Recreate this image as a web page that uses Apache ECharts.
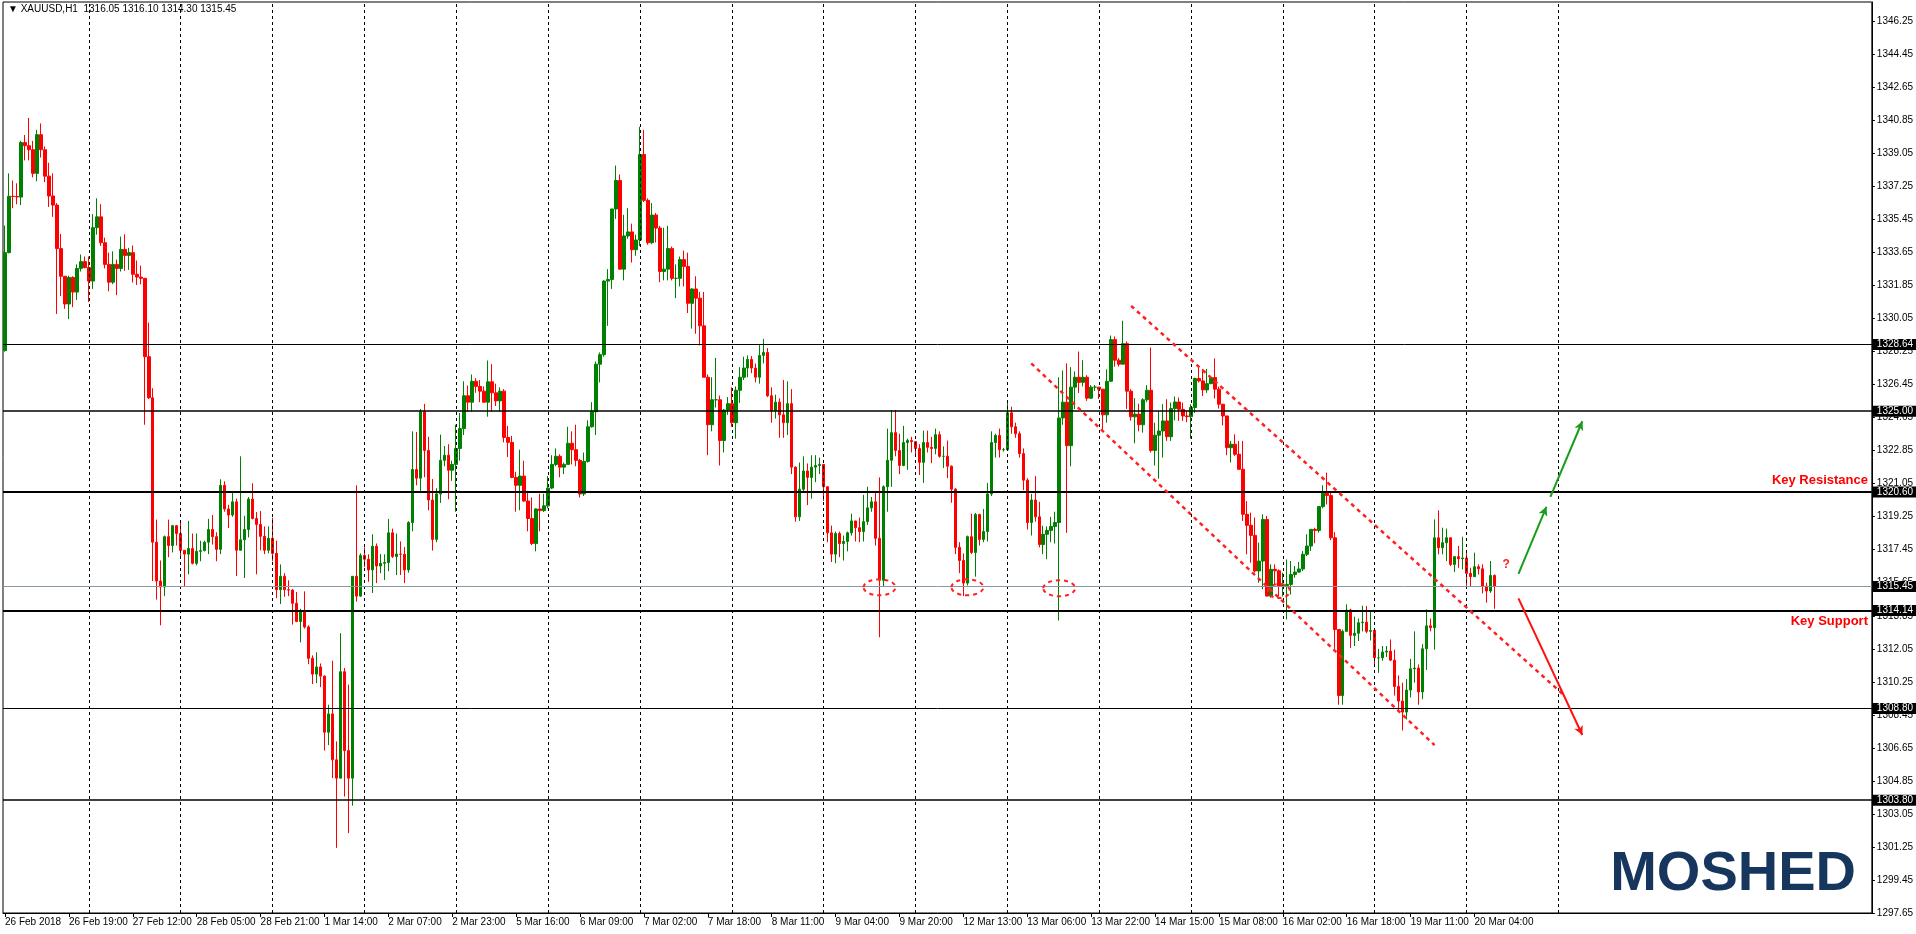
<!DOCTYPE html>
<html><head><meta charset="utf-8">
<script src="https://cdn.jsdelivr.net/npm/echarts@6/dist/echarts.min.js"></script>
<style>html,body{margin:0;padding:0;background:#fff}#c{width:1916px;height:934px}</style>
</head><body><div id="c"></div>
<script>
const firstOpen = 1328.30;
const closes = [
1333.64,1336.71,1336.7,1336.67,1339.64,1339.47,1339.25,1337.96,1340.07,1339.25,
1337.81,1336.73,1336.23,1333.86,1332.35,1330.84,1332.29,1331.49,1332.78,1333.15,
1332.83,1332.09,1335.0,1335.59,1334.18,1333.0,1332.03,1333.0,1332.78,1333.82,
1333.49,1333.64,1332.46,1332.31,1332.24,1327.97,1325.73,1317.86,1315.74,1315.42,
1318.16,1317.68,1318.76,1318.33,1317.42,1317.21,1317.51,1316.71,1317.36,1317.40,
1317.86,1318.55,1318.16,1317.47,1320.96,1319.67,1319.34,1320.06,1317.42,1317.99,
1318.55,1320.21,1319.15,1318.83,1318.18,1317.42,1318.07,1317.25,1315.27,1316.0,
1315.27,1315.25,1314.53,1313.54,1314.12,1313.24,1311.53,1310.67,1311.06,1310.56,
1307.5,1308.5,1306.0,1305.0,1310.8,1306.5,1305.0,1316.0,1314.92,1317.14,
1316.93,1316.35,1317.64,1316.56,1316.71,1316.75,1318.37,1317.08,1317.21,1317.2,
1316.35,1318.93,1321.82,1321.35,1324.97,1322.86,1320.16,1318.01,1320.49,1322.32,
1322.6,1321.78,1322.1,1322.97,1324.05,1325.84,1325.49,1326.63,1326.35,1326.09,
1325.49,1326.6,1326.0,1325.56,1326.09,1323.57,1323.3,1321.39,1320.96,1321.46,
1320.1,1319.15,1317.79,1319.67,1319.58,1319.84,1320.81,1322.1,1322.54,1321.95,
1322.1,1323.25,1322.9,1322.32,1320.49,1322.26,1324.15,1324.97,1327.56,1328.08,
1332.09,1332.18,1336.02,1337.57,1332.74,1334.55,1334.77,1333.8,1334.33,1338.99,
1336.49,1334.18,1335.69,1334.98,1332.61,1332.74,1333.86,1332.24,1332.24,1333.26,
1332.89,1330.88,1331.66,1331.16,1329.65,1326.85,1324.26,1325.62,1325.62,1323.4,
1325.06,1325.41,1324.37,1326.14,1326.85,1327.35,1327.82,1327.35,1326.85,1328.04,
1328.2,1325.84,1325.02,1325.49,1324.8,1324.37,1325.41,1321.95,1319.24,1320.75,
1321.74,1321.39,1321.95,1322.04,1322.1,1320.88,1318.37,1317.21,1318.33,1317.79,
1317.9,1318.37,1319.02,1318.65,1318.44,1318.98,1319.73,1320.06,1318.07,1315.78,
1320.88,1322.32,1323.83,1322.86,1322.04,1323.29,1323.4,1323.34,1322.97,1322.21,
1323.29,1323.03,1322.97,1323.72,1322.54,1322.54,1322.0,1320.75,1317.58,1316.86,
1315.63,1318.16,1317.3,1319.37,1318.01,1318.44,1320.49,1323.29,1323.68,1322.9,
1322.9,1324.91,1324.15,1323.77,1322.69,1321.24,1318.93,1320.16,1319.24,1317.73,
1318.29,1318.5,1318.72,1318.93,1324.63,1325.49,1323.12,1326.31,1326.85,1326.57,
1326.85,1325.71,1326.31,1326.31,1326.2,1324.8,1326.63,1328.9,1327.78,1327.56,
1328.68,1326.09,1324.69,1324.84,1324.26,1325.62,1326.14,1322.86,1323.69,1323.92,
1324.47,1323.61,1325.14,1325.5,1325.1,1324.74,1324.7,1325.2,1326.78,1326.65,
1326.16,1326.5,1326.83,1326.2,1325.38,1324.74,1323.01,1323.2,1322.65,1321.83,
1319.38,1318.78,1318.23,1316.29,1316.83,1319.1,1314.92,1316.38,1316.3,1315.47,
1315.5,1315.56,1316.1,1316.23,1316.4,1317.2,1317.65,1318.56,1318.5,1319.8,
1320.52,1320.4,1318.1,1313.1,1309.5,1313.0,1314.16,1312.78,1312.9,1313.47,
1313.5,1313.0,1313.05,1311.56,1311.56,1311.87,1311.92,1311.43,1310.0,1309.2,
1308.6,1309.8,1310.96,1311.0,1309.7,1312.05,1313.3,1313.2,1318.1,1317.56,
1317.83,1318.1,1316.65,1317.07,1316.96,1317.0,1316.16,1315.98,1316.52,1316.41,
1315.47,1315.2,1316.05,1315.45];
const highs = [
1335.11,1337.96,1337.57,1337.42,1339.73,1340.05,1340.98,1339.73,1340.33,1340.68,
1339.43,1338.54,1337.96,1336.34,1334.66,1332.35,1332.39,1332.35,1333.0,1333.54,
1333.43,1333.43,1335.74,1336.6,1336.28,1334.46,1333.64,1333.71,1333.26,1334.51,
1334.64,1333.9,1334.03,1333.21,1332.93,1332.24,1329.83,1326.25,1319.09,1316.86,
1318.22,1319.09,1318.8,1318.8,1318.93,1317.42,1319.02,1318.33,1318.33,1317.94,
1317.94,1319.13,1319.34,1318.4,1321.29,1321.18,1319.9,1320.6,1320.23,1322.54,
1319.3,1320.32,1321.07,1319.5,1319.56,1318.72,1318.72,1319.19,1317.94,1316.65,
1316.17,1315.78,1315.3,1315.14,1314.23,1315.18,1313.33,1311.69,1311.86,1311.25,
1310.6,1309.0,1311.4,1307.0,1312.9,1311.0,1310.1,1316.0,1320.96,1317.25,
1317.58,1317.2,1318.29,1317.79,1317.21,1317.2,1319.13,1318.6,1318.33,1317.9,
1317.6,1319.0,1323.9,1323.87,1325.12,1325.4,1323.6,1321.3,1320.8,1323.72,
1323.1,1323.2,1322.3,1324.26,1324.9,1326.63,1326.4,1327.0,1326.8,1326.7,
1326.35,1327.76,1327.56,1326.5,1326.3,1326.2,1324.2,1323.65,1321.7,1322.9,
1322.3,1320.66,1320.3,1319.7,1320.5,1320.5,1321.46,1322.6,1322.97,1322.65,
1322.2,1324.15,1323.9,1324.26,1322.4,1322.75,1324.5,1325.49,1327.7,1328.2,
1332.14,1332.74,1336.02,1338.39,1337.9,1335.7,1336.06,1335.22,1334.62,1340.5,
1340.33,1336.6,1336.34,1335.8,1335.1,1335.0,1335.1,1333.97,1333.0,1333.43,
1333.75,1333.64,1331.7,1332.35,1331.5,1331.5,1327.0,1326.85,1327.9,1325.85,
1325.12,1325.77,1326.3,1326.35,1327.4,1327.97,1328.04,1328.0,1327.6,1328.6,
1328.94,1328.44,1326.3,1325.9,1325.7,1326.7,1326.63,1326.2,1322.0,1322.2,
1322.54,1322.15,1322.6,1322.6,1322.47,1322.0,1320.9,1318.76,1318.44,1318.44,
1318.22,1318.44,1319.41,1318.93,1319.2,1320.44,1320.88,1320.32,1320.6,1321.39,
1320.96,1324.05,1325.06,1325.06,1323.77,1324.2,1323.5,1323.6,1323.29,1323.2,
1323.94,1323.94,1323.6,1324.05,1323.9,1323.08,1323.4,1322.04,1320.8,1317.86,
1317.25,1318.22,1319.41,1319.45,1319.41,1319.67,1321.09,1323.9,1323.77,1324.05,
1323.0,1325.56,1325.24,1324.37,1323.9,1322.97,1321.35,1320.49,1321.46,1320.06,
1318.76,1318.72,1319.24,1319.52,1326.85,1327.22,1327.6,1327.4,1327.17,1328.25,
1327.78,1326.96,1326.42,1326.42,1326.3,1326.2,1327.28,1329.12,1329.07,1327.9,
1329.93,1328.8,1326.2,1325.71,1325.41,1325.71,1326.42,1328.47,1324.37,1325.0,
1325.38,1325.65,1325.47,1325.8,1325.74,1325.47,1325.0,1325.38,1326.83,1327.47,
1327.3,1327.3,1326.92,1327.87,1326.34,1325.38,1324.74,1323.38,1323.74,1323.38,
1323.38,1320.1,1319.47,1319.2,1317.83,1319.38,1319.29,1316.65,1316.65,1316.38,
1316.2,1316.92,1316.83,1316.56,1316.78,1317.38,1318.29,1318.56,1318.65,1319.83,
1320.96,1321.65,1320.6,1318.41,1313.1,1313.1,1314.47,1314.23,1313.8,1313.7,
1314.4,1314.38,1314.1,1313.1,1312.05,1312.2,1312.2,1312.56,1312.0,1310.6,
1310.2,1310.4,1311.5,1313.0,1311.2,1312.3,1314.2,1313.7,1319.1,1319.6,
1318.65,1318.6,1318.1,1317.1,1317.65,1318.16,1317.38,1316.47,1317.29,1316.65,
1316.65,1315.65,1316.83,1316.1];
const lows = [
1328.25,1333.6,1336.06,1336.28,1336.23,1338.67,1338.67,1337.74,1337.53,1338.82,
1337.48,1336.13,1335.59,1330.30,1331.27,1330.58,1330.02,1330.67,1331.06,1332.61,
1332.78,1330.95,1331.66,1334.62,1334.01,1332.78,1331.53,1331.92,1331.32,1332.61,
1332.65,1332.7,1332.01,1331.88,1331.92,1324.26,1325.66,1315.74,1314.73,1313.33,
1314.92,1317.04,1317.3,1317.68,1317.04,1315.42,1316.11,1316.65,1316.6,1316.82,
1317.36,1317.21,1317.73,1316.82,1317.21,1319.52,1318.63,1319.24,1316.02,1317.42,
1315.91,1318.12,1319.1,1316.11,1317.42,1317.21,1317.25,1316.82,1314.81,1314.49,
1314.88,1314.92,1313.37,1313.5,1312.4,1313.15,1311.21,1310.13,1310.18,1309.96,
1306.5,1306.8,1305.0,1301.2,1305.0,1304.0,1302.0,1303.5,1314.62,1314.88,
1316.5,1315.7,1315.09,1315.63,1316.17,1315.8,1316.28,1317.0,1316.07,1316.07,
1315.63,1316.2,1318.45,1320.96,1320.6,1321.4,1319.6,1317.4,1317.86,1320.0,
1322.0,1320.2,1321.2,1319.52,1322.3,1323.7,1324.97,1324.97,1326.0,1325.49,
1325.45,1324.7,1324.97,1325.28,1324.97,1323.3,1322.5,1321.35,1319.52,1319.6,
1320.06,1318.45,1317.7,1317.36,1318.45,1319.5,1319.7,1320.75,1322.0,1321.4,
1321.57,1322.1,1322.1,1322.0,1320.3,1320.38,1322.2,1324.1,1323.7,1326.57,
1327.97,1329.65,1331.66,1335.48,1332.74,1332.13,1334.4,1333.1,1333.47,1334.0,
1336.4,1334.07,1334.1,1334.2,1332.03,1332.13,1332.13,1332.13,1331.16,1331.8,
1331.8,1330.35,1329.5,1329.22,1328.58,1326.85,1322.6,1323.9,1325.2,1322.04,
1322.75,1324.8,1324.15,1323.5,1325.45,1326.7,1326.85,1327.07,1326.57,1326.5,
1327.6,1325.77,1324.37,1324.6,1323.55,1323.55,1323.7,1321.57,1318.98,1319.02,
1320.6,1319.88,1320.23,1321.13,1321.57,1320.1,1317.86,1316.78,1316.71,1317.04,
1316.86,1317.36,1318.22,1317.9,1317.86,1317.9,1318.8,1319.52,1317.68,1312.68,
1315.42,1319.52,1320.88,1322.54,1321.57,1322.0,1321.8,1322.75,1322.54,1321.52,
1321.09,1322.75,1322.17,1322.65,1322.47,1321.9,1321.35,1320.01,1317.21,1316.17,
1314.92,1315.5,1317.21,1315.98,1317.68,1317.86,1317.9,1320.38,1322.47,1322.47,
1322.8,1323.4,1323.77,1323.55,1322.47,1320.7,1318.55,1318.22,1318.98,1317.58,
1317.21,1316.93,1317.86,1317.79,1313.59,1324.26,1318.37,1322.0,1325.12,1325.99,
1326.35,1325.56,1325.66,1326.1,1325.66,1323.94,1324.37,1326.6,1327.43,1327.43,
1327.56,1325.12,1324.48,1323.25,1323.9,1323.83,1325.49,1322.75,1322.04,1321.32,
1322.47,1323.38,1323.38,1324.5,1324.47,1324.47,1324.4,1323.5,1324.9,1326.56,
1325.83,1326.0,1326.47,1325.69,1325.14,1324.23,1322.6,1322.2,1322.56,1321.83,
1319.02,1317.2,1316.74,1316.2,1315.65,1315.29,1314.92,1314.83,1315.5,1314.92,
1314.9,1313.65,1315.0,1315.92,1316.2,1316.29,1317.1,1317.38,1317.8,1318.38,
1319.7,1319.92,1317.97,1312.0,1309.0,1309.0,1313.0,1312.1,1312.2,1312.47,
1313.0,1312.9,1312.5,1311.2,1310.74,1311.4,1311.6,1311.38,1309.5,1308.6,
1307.6,1308.2,1309.4,1310.2,1309.0,1309.3,1310.9,1313.0,1312.0,1317.2,
1317.2,1316.83,1316.56,1316.23,1316.47,1316.38,1315.47,1315.47,1315.98,1316.1,
1315.07,1314.56,1315.1,1314.23];
const tickLabels = ["26 Feb 2018","26 Feb 19:00","27 Feb 12:00","28 Feb 05:00","28 Feb 21:00","1 Mar 14:00","2 Mar 07:00","2 Mar 23:00","5 Mar 16:00","6 Mar 09:00","7 Mar 02:00","7 Mar 18:00","8 Mar 11:00","9 Mar 04:00","9 Mar 20:00","12 Mar 13:00","13 Mar 06:00","13 Mar 22:00","14 Mar 15:00","15 Mar 08:00","16 Mar 02:00","16 Mar 18:00","19 Mar 11:00","20 Mar 04:00"];
const levels = [1328.64, 1325.00, 1320.60, 1314.14, 1308.80, 1303.80];
const levelWidths = [1, 1.5, 2, 2, 1, 1.5];
const bidLevel = 1315.45;
const channelUpper = [[281.7, 1330.74], [390, 1309.6]];
const channelLower = [[257.2, 1327.6], [358, 1306.8]];
const greenArrow1 = [[378.6, 1316.13], [385.8, 1319.79]];
const greenArrow2 = [[387, 1320.33], [395.3, 1324.45]];
const redArrow = [[378.6, 1314.80], [394.5, 1307.35]];
const ellipses = [[219.2, 1315.4, 16, 8], [240.8, 1315.4, 16, 8], [263.6, 1315.35, 16, 8], [318.8, 1315.2, 11, 7]];
const SLOTS = 468, LABEL_STEP = 16, GRID_START = 21, GRID_STEP = 23, GRID_END = 392;

const cats = Array.from({length: SLOTS}, (_, i) => i);
const ohlc = closes.map((c, i) => {
  const o = i === 0 ? firstOpen : closes[i - 1];
  return [o, c, Math.min(lows[i], o, c), Math.max(highs[i], o, c)];
});
const vLines = [];
for (let i = GRID_START; i < GRID_END; i += GRID_STEP) vLines.push({xAxis: i});

const FONT = 'Liberation Sans';
const chart = echarts.init(document.getElementById('c'), null, {renderer: 'canvas'});
const boxLabel = (v) => ({show: true, position: 'end', distance: 1, formatter: v.toFixed(2), color: '#fff', backgroundColor: '#000', padding: [1, 4, 0, 4], fontSize: 10, fontFamily: FONT});
const hLines = levels.map((v, k) => ({yAxis: v, lineStyle: {color: '#000', width: levelWidths[k], type: 'solid'}, label: boxLabel(v)}));
hLines.push({yAxis: bidLevel, lineStyle: {color: '#8899a6', width: 1, type: 'solid'}, label: boxLabel(bidLevel)});
const seg = (pts, color, arrow) => [
  {coord: pts[0], symbol: 'none', lineStyle: {color: color, width: arrow ? 2 : 2.5, type: arrow ? 'solid' : [4, 4]}},
  {coord: pts[1], symbol: arrow ? 'arrow' : 'none', symbolSize: arrow ? [7, 9] : 0}
];

chart.setOption({
  animation: false,
  backgroundColor: '#fff',
  grid: {left: 3, right: 43, top: 2, bottom: 21, show: true, borderColor: '#000', borderWidth: 1},
  xAxis: {
    type: 'category', data: cats, boundaryGap: true,
    axisLine: {show: true, lineStyle: {color: '#000'}},
    axisTick: {show: true, length: 4, alignWithLabel: true, interval: (i) => i % LABEL_STEP === 0 && i / LABEL_STEP < tickLabels.length, lineStyle: {color: '#000'}},
    axisLabel: {interval: (i) => i % LABEL_STEP === 0 && i / LABEL_STEP < tickLabels.length, formatter: (v, i) => tickLabels[i / LABEL_STEP] || '',
      align: 'left', margin: 4, fontSize: 10, color: '#000', fontFamily: FONT},
    splitLine: {show: false}
  },
  yAxis: {
    type: 'value', position: 'right', min: 1297.65, max: 1347.3, interval: 1.8, scale: true,
    axisLine: {show: true, lineStyle: {color: '#000'}},
    axisTick: {show: true, length: 3, lineStyle: {color: '#000'}},
    axisLabel: {showMaxLabel: false, formatter: (v) => v.toFixed(2), fontSize: 10, color: '#000', fontFamily: FONT, margin: 5},
    splitLine: {show: false}
  },
  series: [
    {type: 'candlestick', data: ohlc, barWidth: 3,
     itemStyle: {color: '#008000', color0: '#ff0000', borderColor: '#008000', borderColor0: '#ff0000', borderWidth: 1},
     markLine: {silent: true, symbol: 'none', animation: false,
       data: vLines.map(d => Object.assign({}, d, {lineStyle: {color: '#000', width: 1, type: [3, 3]}, label: {show: false}})).concat(hLines)}},
    {type: 'line', data: [], markLine: {silent: true, animation: false, label: {show: false},
       data: [seg(channelUpper, '#ff2020', false), seg(channelLower, '#ff2020', false),
              seg(greenArrow1, '#1a9c1a', true), seg(greenArrow2, '#1a9c1a', true), seg(redArrow, '#ff1010', true)]}}
  ]
});

function px(i, p) { return chart.convertToPixel({xAxisIndex: 0, yAxisIndex: 0}, [i, p]); }
const g = [];
ellipses.forEach(e => {
  const c = px(e[0], e[1]);
  g.push({type: 'ellipse', shape: {cx: c[0], cy: c[1], rx: e[2], ry: e[3]}, style: {fill: 'none', stroke: '#ff2020', lineWidth: 2, lineDash: [4, 4]}, z: 100});
});
const kr = px(0, 1321.15), ks = px(0, 1313.45), q = px(375.6, 1316.5);
g.push({type: 'text', right: 48, top: kr[1] - 8, style: {text: 'Key Resistance', fill: '#ff0000', font: 'bold 13px ' + FONT}, z: 100});
g.push({type: 'text', right: 48, top: ks[1] - 8, style: {text: 'Key Support', fill: '#ff0000', font: 'bold 13px ' + FONT}, z: 100});
g.push({type: 'text', left: q[0] - 4, top: q[1] - 8, style: {text: '?', fill: '#ff2020', font: 'bold 12px ' + FONT}, z: 100});
g.push({type: 'text', left: 8, top: 4, style: {text: '\u25BC XAUUSD,H1  1316.05 1316.10 1314.30 1315.45', fill: '#000', font: '10px ' + FONT}, z: 100});
g.push({type: 'text', right: 60, top: 847, style: {text: 'MOSHED', fill: '#17365d', font: 'bold 56px ' + FONT}, z: 100});
chart.setOption({graphic: g});
</script></body></html>
